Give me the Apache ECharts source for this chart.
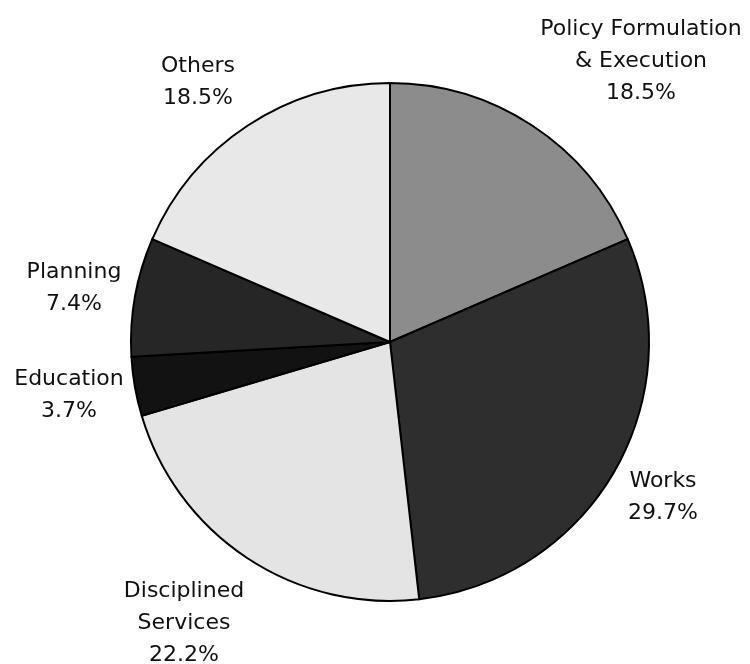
<!DOCTYPE html>
<html>
<head>
<meta charset="utf-8">
<script src="https://cdn.jsdelivr.net/npm/echarts@6/dist/echarts.min.js"></script>
<style>html,body{margin:0;padding:0;background:#fff;}#c{width:750px;height:664px;}</style>
</head>
<body>
<div id="c"></div>
<script>
var categories = ["Policy Formulation\n& Execution", "Works", "Disciplined\nServices", "Education", "Planning", "Others"];
var values = [18.5, 29.7, 22.2, 3.7, 7.4, 18.5];
var colors = ["#8c8c8c", "#2e2e2e", "#e4e4e4", "#121212", "#262626", "#e8e8e8"];
var labelPos = [
  [641, 61], [663, 497], [184, 623], [69, 395], [74, 288], [198, 82]
];
var chart = echarts.init(document.getElementById('c'));
chart.setOption({
  animation: false,
  backgroundColor: '#ffffff',
  series: [{
    type: 'pie',
    center: [390, 342],
    radius: 259,
    startAngle: 90,
    clockwise: true,
    data: categories.map(function (c, i) {
      return { name: c, value: values[i], itemStyle: { color: colors[i] } };
    }),
    itemStyle: { borderColor: '#000', borderWidth: 2 },
    label: {
      show: true,
      position: 'outside',
      formatter: function (p) { return p.name + '\n' + p.value.toFixed(1) + '%'; },
      fontFamily: 'DejaVu Sans, sans-serif',
      fontSize: 22,
      lineHeight: 32,
      color: '#111',
      align: 'center',
      overflow: 'none',
      width: 260
    },
    labelLine: { show: false },
    labelLayout: function (params) {
      var p = labelPos[params.dataIndex];
      return { x: p[0], y: p[1], align: 'center', verticalAlign: 'middle' };
    }
  }]
});
</script>
</body>
</html>
